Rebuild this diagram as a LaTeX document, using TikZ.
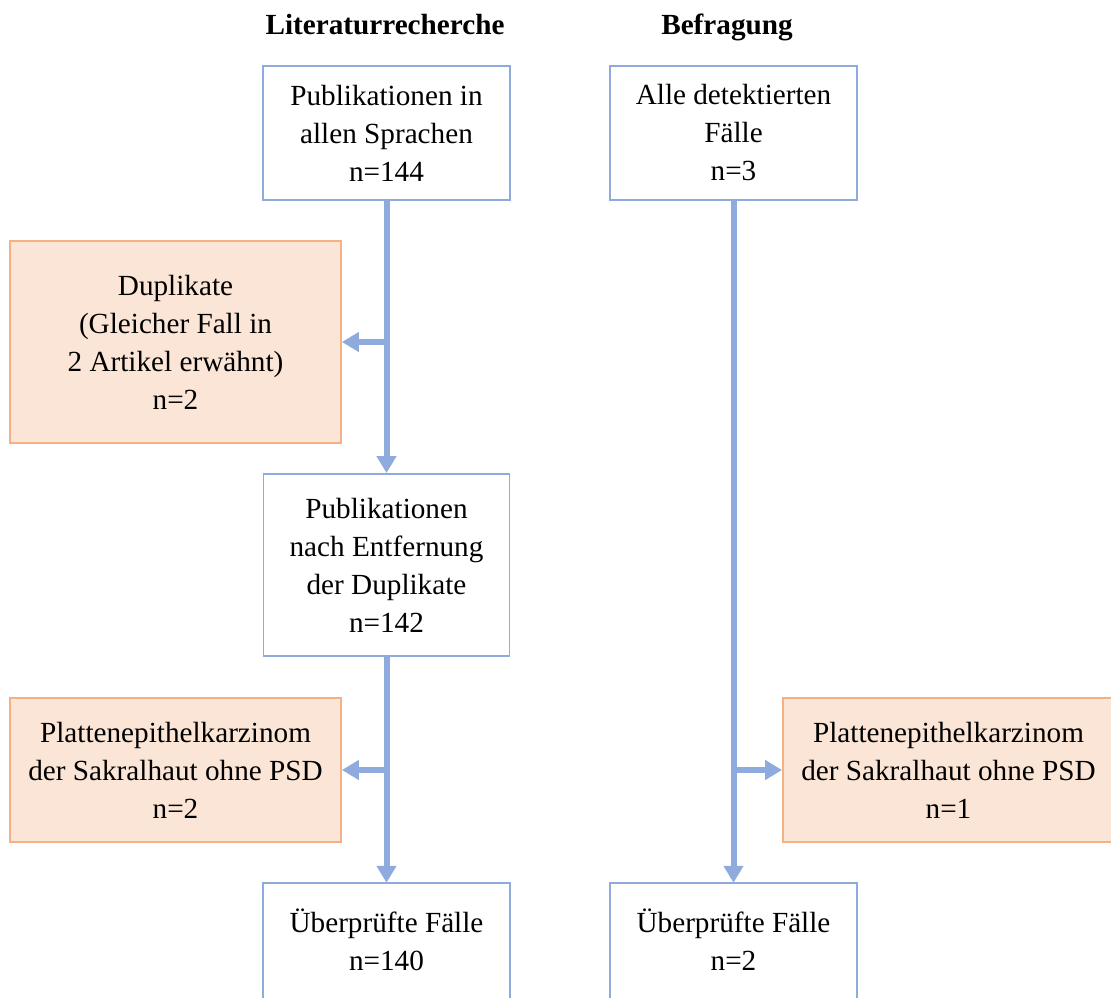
\documentclass[tikz,border=0pt]{standalone}
\usepackage{fontspec}
\setmainfont{Liberation Serif}
\usetikzlibrary{arrows.meta}
\definecolor{flowblue}{HTML}{8FAADC}
\definecolor{exclfill}{HTML}{FBE5D6}
\definecolor{exclline}{HTML}{F4B183}
\tikzset{
  txt/.style={font=\fontsize{29.2}{38}\selectfont, align=center, inner sep=0pt},
  mainbox/.style={txt, draw=flowblue, line width=1.8pt, fill=white},
  openbox/.style={txt},
  exclbox/.style={txt, draw=exclline, line width=1.8pt, fill=exclfill},
  header/.style={font=\fontsize{29.2}{38}\selectfont\bfseries, inner sep=0pt, anchor=base},
  flow/.style={draw=flowblue, line width=6pt, -{Triangle[length=17pt,width=19pt]}},
  sideline/.style={draw=flowblue, line width=1.8pt}
}
\begin{document}
\begin{tikzpicture}[x=1pt,y=-1pt]
\useasboundingbox (0,0) rectangle (1111,998);
\clip (0,0) rectangle (1111,998);
\node[header] (h1) at (385,35) {Literaturrecherche};
\node[header] (h2) at (727,35) {Befragung};
\node[mainbox, minimum width=247pt, minimum height=134pt] (A) at (386.5,133) {Publikationen in\\allen Sprachen\\n=144};
\node[mainbox, minimum width=247pt, minimum height=134pt] (B) at (733.5,133) {Alle detektierten\\Fälle\\n=3};
\node[exclbox, minimum width=331pt, minimum height=202pt] (Dup) at (175.5,342) {Duplikate\\(Gleicher Fall in\\2 Artikel erwähnt)\\n=2};
\node[mainbox, minimum width=246pt, minimum height=182pt] (C) at (386.5,565) {Publikationen\\nach Entfernung\\der Duplikate\\n=142};
\node[exclbox, minimum width=331pt, minimum height=144pt] (P1) at (175.5,770) {Plattenepithelkarzinom\\der Sakralhaut ohne PSD\\n=2};
\node[exclbox, minimum width=331pt, minimum height=144pt] (P2) at (948.5,770) {Plattenepithelkarzinom\\der Sakralhaut ohne PSD\\n=1};
\node[openbox, minimum width=246pt, minimum height=114pt] (D) at (386.5,940) {Überprüfte Fälle\\n=140};
\node[openbox, minimum width=247pt, minimum height=114pt] (E) at (733.5,940) {Überprüfte Fälle\\n=2};
\draw[sideline] ([yshift=-10pt]D.south west) -- (D.north west) -- (D.north east) -- ([yshift=-10pt]D.south east);
\draw[sideline] ([yshift=-10pt]E.south west) -- (E.north west) -- (E.north east) -- ([yshift=-10pt]E.south east);
\draw[flow] (A.south) -- (C.north);
\draw[flow] (A.south |- Dup.east) -- (Dup.east);
\draw[flow] (C.south) -- (D.north);
\draw[flow] (C.south |- P1.east) -- (P1.east);
\draw[flow] (B.south) -- (E.north);
\draw[flow] (B.south |- P2.west) -- (P2.west);
\end{tikzpicture}
\end{document}
